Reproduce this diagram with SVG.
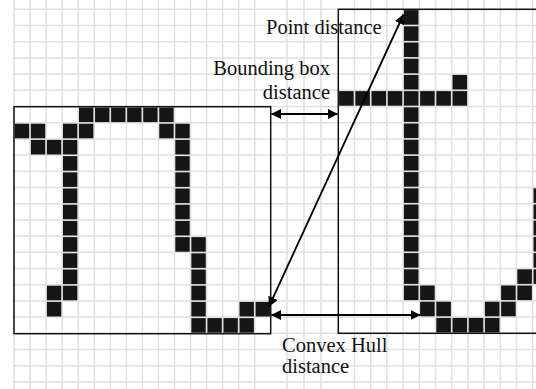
<svg xmlns="http://www.w3.org/2000/svg" xmlns:xlink="http://www.w3.org/1999/xlink" width="536" height="389" viewBox="0 0 536 389">
  <style>
    .grid { stroke: #e0e0e0; stroke-width: 1.5; fill: none; }
    .box { fill: none; stroke: #111; stroke-width: 1.5; }
    .px { fill: #151515; }
    .lbl { font-family: "Liberation Serif", "Times New Roman", serif; font-size: 20.5px; fill: #111; }
    .arr { stroke: #000; stroke-width: 1.8; fill: none; marker-start: url(#ah); marker-end: url(#ah); }
  </style>
  <defs>
    <marker id="ah" viewBox="0 0 10 10" refX="9.5" refY="5" markerWidth="10" markerHeight="10" markerUnits="userSpaceOnUse" orient="auto-start-reverse">
      <path d="M0,0 L10,5 L0,10 z" fill="#000"/>
    </marker>
    <rect id="c" width="14.4" height="14.6" class="px"/>
    <rect id="d" width="14.6" height="14.6" class="px"/>
  </defs>
  <rect width="536" height="389" fill="#fff"/>
  <g id="background-grid" class="grid">
    <path d="M30.05,0V389 M46.1,0V389 M62.15,0V389 M78.2,0V389 M94.25,0V389 M110.3,0V389 M126.35,0V389 M142.4,0V389 M158.45,0V389 M174.5,0V389 M190.55,0V389 M206.6,0V389 M222.65,0V389 M238.7,0V389 M254.75,0V389 M287,0V389 M304,0V389 M321,0V389 M354.5,0V389 M370.7,0V389 M386.9,0V389 M403.1,0V389 M419.3,0V389 M435.5,0V389 M451.7,0V389 M467.9,0V389 M484.1,0V389 M500.3,0V389 M516.5,0V389 M532.7,0V389 M14,0V389"/>
    <path d="M14,9.3H536 M14,25.5H536 M14,41.7H536 M14,57.9H536 M14,74.1H536 M14,90.3H536 M14,106.5H536 M14,122.7H536 M14,138.9H536 M14,155.1H536 M14,171.3H536 M14,187.5H536 M14,203.7H536 M14,219.9H536 M14,236.1H536 M14,252.3H536 M14,268.5H536 M14,284.7H536 M14,300.9H536 M14,317.1H536 M14,333.3H536 M14,349.5H536 M14,365.7H536 M14,381.9H536"/>
  </g>
  <g id="node-left-glyph">
    <rect class="box" x="14" y="106.7" width="256.7" height="227"/>
    <use href="#c" x="79" y="107.5"/><use href="#c" x="95.05" y="107.5"/><use href="#c" x="111.1" y="107.5"/><use href="#c" x="127.15" y="107.5"/><use href="#c" x="143.2" y="107.5"/><use href="#c" x="159.25" y="107.5"/>
    <use href="#c" x="14.8" y="123.7"/><use href="#c" x="30.85" y="123.7"/><use href="#c" x="62.95" y="123.7"/><use href="#c" x="79" y="123.7"/><use href="#c" x="159.25" y="123.7"/><use href="#c" x="175.3" y="123.7"/>
    <use href="#c" x="30.85" y="139.9"/><use href="#c" x="46.9" y="139.9"/><use href="#c" x="62.95" y="139.9"/><use href="#c" x="175.3" y="139.9"/>
    <use href="#c" x="62.95" y="156.1"/><use href="#c" x="175.3" y="156.1"/>
    <use href="#c" x="62.95" y="172.3"/><use href="#c" x="175.3" y="172.3"/>
    <use href="#c" x="62.95" y="188.5"/><use href="#c" x="175.3" y="188.5"/>
    <use href="#c" x="62.95" y="204.7"/><use href="#c" x="175.3" y="204.7"/>
    <use href="#c" x="62.95" y="220.9"/><use href="#c" x="175.3" y="220.9"/>
    <use href="#c" x="62.95" y="237.1"/><use href="#c" x="175.3" y="237.1"/><use href="#c" x="191.35" y="237.1"/>
    <use href="#c" x="62.95" y="253.3"/><use href="#c" x="191.35" y="253.3"/>
    <use href="#c" x="62.95" y="269.5"/><use href="#c" x="191.35" y="269.5"/>
    <use href="#c" x="46.9" y="285.7"/><use href="#c" x="62.95" y="285.7"/><use href="#c" x="191.35" y="285.7"/>
    <use href="#c" x="46.9" y="301.9"/><use href="#c" x="191.35" y="301.9"/><use href="#c" x="239.5" y="301.9"/><use href="#c" x="255.55" y="301.9"/>
    <use href="#c" x="191.35" y="318.1"/><use href="#c" x="207.4" y="318.1"/><use href="#c" x="223.45" y="318.1"/><use href="#c" x="239.5" y="318.1"/>
  </g>
  <g id="node-right-glyph">
    <rect class="box" x="338.3" y="9.3" width="220" height="324"/>
    <use href="#d" x="403.9" y="10.1"/><use href="#d" x="403.9" y="26.3"/><use href="#d" x="403.9" y="42.5"/><use href="#d" x="403.9" y="58.7"/><use href="#d" x="403.9" y="74.9"/>
    <use href="#d" x="452.5" y="74.9"/>
    <use href="#d" x="339.1" y="91.1"/><use href="#d" x="355.3" y="91.1"/><use href="#d" x="371.5" y="91.1"/><use href="#d" x="387.7" y="91.1"/><use href="#d" x="403.9" y="91.1"/><use href="#d" x="420.1" y="91.1"/><use href="#d" x="436.3" y="91.1"/><use href="#d" x="452.5" y="91.1"/>
    <use href="#d" x="403.9" y="107.3"/><use href="#d" x="403.9" y="123.5"/><use href="#d" x="403.9" y="139.7"/><use href="#d" x="403.9" y="155.9"/><use href="#d" x="403.9" y="172.1"/><use href="#d" x="403.9" y="188.3"/><use href="#d" x="403.9" y="204.5"/><use href="#d" x="403.9" y="220.7"/><use href="#d" x="403.9" y="236.9"/><use href="#d" x="403.9" y="253.1"/><use href="#d" x="403.9" y="269.3"/><use href="#d" x="403.9" y="285.5"/>
    <use href="#d" x="533.5" y="188.3"/><use href="#d" x="533.5" y="204.5"/><use href="#d" x="533.5" y="220.7"/><use href="#d" x="533.5" y="236.9"/><use href="#d" x="533.5" y="253.1"/><use href="#d" x="533.5" y="269.3"/>
    <use href="#d" x="517.3" y="269.3"/>
    <use href="#d" x="420.1" y="285.5"/><use href="#d" x="501.1" y="285.5"/><use href="#d" x="517.3" y="285.5"/>
    <use href="#d" x="420.1" y="301.7"/><use href="#d" x="436.3" y="301.7"/><use href="#d" x="484.9" y="301.7"/><use href="#d" x="501.1" y="301.7"/>
    <use href="#d" x="436.3" y="317.9"/><use href="#d" x="452.5" y="317.9"/><use href="#d" x="468.7" y="317.9"/><use href="#d" x="484.9" y="317.9"/>
  </g>
  <g id="connectors">
    <line id="point-distance" class="arr" x1="269" y1="306.5" x2="403.5" y2="14.5"/>
    <line id="bbox-distance" class="arr" x1="271.5" y1="114" x2="337.5" y2="114"/>
    <line id="hull-distance" class="arr" x1="271.5" y1="315" x2="420" y2="315"/>
  </g>
  <g id="labels">
    <text class="lbl" x="266" y="34.3">Point distance</text>
    <text class="lbl" x="330" y="75" text-anchor="end">Bounding box</text>
    <text class="lbl" x="330" y="99" text-anchor="end">distance</text>
    <text class="lbl" x="282" y="351.7">Convex Hull</text>
    <text class="lbl" x="282" y="373.3">distance</text>
  </g>
</svg>
